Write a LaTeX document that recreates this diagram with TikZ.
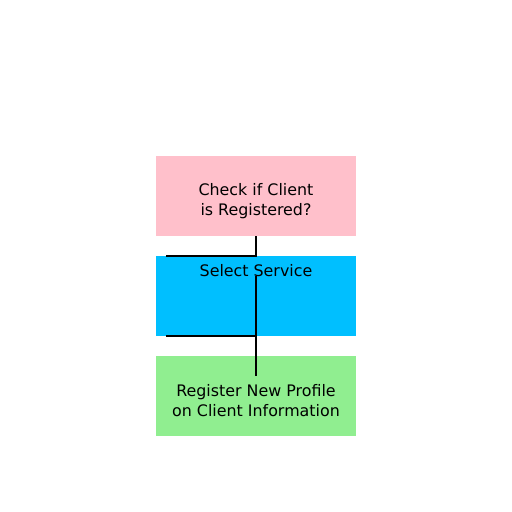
\documentclass[tikz,border=0pt]{standalone}
\usepackage{fontspec}
\setmainfont{DejaVu Sans}
\usetikzlibrary{positioning}
\definecolor{boxpink}{RGB}{255,192,203}
\definecolor{boxblue}{RGB}{0,191,255}
\definecolor{boxgreen}{RGB}{144,238,144}
\tikzset{
  stepbox/.style={minimum width=150pt,minimum height=60pt,inner sep=0pt},
  steptext/.style={align=center,inner sep=0pt,font=\fontsize{11.9}{15}\selectfont},
  link/.style={line width=1.5pt}
}
\begin{document}
\begin{tikzpicture}[x=0.75pt,y=-0.75pt]
\useasboundingbox (0,0) rectangle (512,512);
\node[stepbox,fill=boxpink](check)at(256,196){};
\node[stepbox,fill=boxblue](select)at(256,296){};
\node[stepbox,fill=boxgreen](register)at(256,396){};
\node[steptext](checktext)at(256,201){Check if Client\\is Registered?};
\node[steptext](selecttext)at(256,271){Select Service};
\node[steptext](registertext)at(256,401){Register New Profile\\on Client Information};
% connectors
\coordinate(c1)at(166,256);
\coordinate(c2)at(256,276);
\coordinate(c3)at(256,376);
\coordinate(c4)at(166,336);
\draw[link](check.south)|-(c1);
\draw[link](c2)--(c3);
\draw[link](c2|-c4)--(c4);
\end{tikzpicture}
\end{document}
